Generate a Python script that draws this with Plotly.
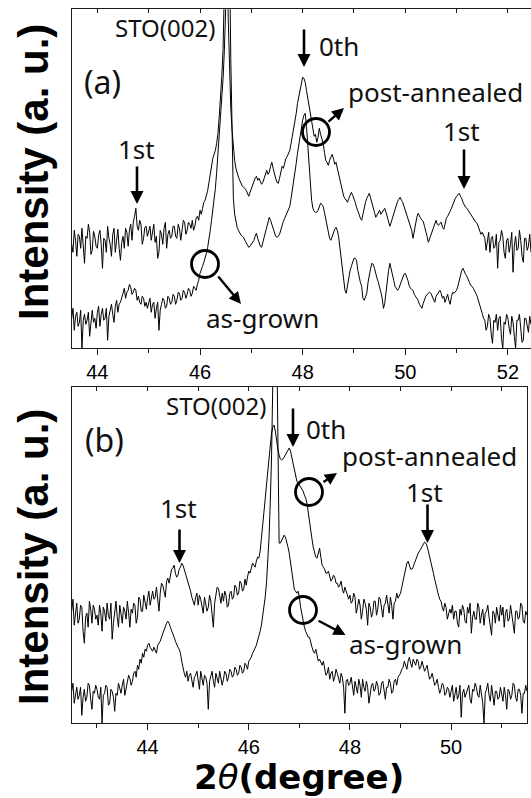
import numpy as np
import plotly.graph_objects as go

W, H = 531, 798

# ---------------- data (arbitrary intensity units) ----------------
STEP = 0.025
A_START = 43.50   # panel (a) first 2theta
B_START = 42.50   # panel (b) first 2theta

# panel (a): post-annealed (upper curve)
pa_a = [
    104, 96, 118, 108, 92, 114, 112, 100, 120, 106, 85, 112, 110, 124, 116, 94, 98, 117, 112, 102,
    100, 113, 118, 104, 80, 110, 108, 96, 122, 110, 104, 92, 114, 120, 96, 108, 119, 100, 88, 106,
    112, 100, 120, 116, 102, 118, 124, 108, 126, 132, 140, 122, 118, 128, 124, 104, 110, 121, 122, 112,
    116, 122, 108, 118, 124, 106, 112, 90, 96, 118, 114, 104, 120, 126, 100, 114, 118, 110, 112, 122,
    122, 112, 110, 124, 120, 108, 116, 128, 126, 114, 118, 126, 124, 120, 128, 118, 122, 130, 132, 128,
    138, 134, 140, 146, 148, 152, 158, 166, 175, 182, 190, 194, 198, 205, 215, 232, 250, 272, 300, 350,
    420, 400, 330, 280, 240, 218, 200, 188, 180, 175, 171, 168, 165, 162, 161, 160, 158, 154, 152, 156,
    160, 163, 166, 170, 172, 168, 170, 166, 164, 166, 170, 175, 178, 174, 176, 182, 186, 180, 174, 170,
    166, 165, 170, 176, 182, 180, 186, 190, 192, 195, 198, 205, 212, 218, 225, 235, 245, 252, 258, 265,
    271, 270, 266, 258, 250, 242, 235, 226, 218, 212, 214, 206, 211, 220, 214, 210, 205, 196, 188, 186,
    183, 188, 192, 194, 190, 184, 186, 180, 176, 168, 162, 156, 152, 150, 148, 146, 150, 154, 156, 153,
    150, 146, 141, 138, 134, 130, 128, 134, 142, 146, 150, 153, 155, 150, 146, 140, 136, 131, 133, 136,
    138, 134, 136, 138, 140, 136, 132, 126, 122, 126, 130, 135, 140, 144, 147, 149, 151, 148, 146, 142,
    138, 134, 131, 126, 122, 118, 110, 118, 126, 131, 135, 132, 130, 128, 127, 122, 118, 112, 106, 110,
    112, 116, 122, 126, 128, 124, 123, 125, 126, 121, 119, 124, 130, 132, 134, 137, 140, 144, 147, 150,
    152, 154, 155, 152, 150, 146, 143, 141, 140, 138, 136, 133, 132, 129, 128, 126, 125, 121, 119, 114,
    116, 112, 110, 98, 106, 116, 96, 110, 112, 100, 102, 114, 80, 106, 108, 118, 112, 96, 90, 108,
    110, 96, 104, 116, 76, 102, 112, 98, 100, 118, 108, 92, 86, 110, 110, 98, 102, 114, 96,
]
# panel (a): as-grown (lower curve)
ag_a = [
    30, 40, 18, 32, 36, 22, 26, 38, 0, 28, 34, 24, 28, 36, 12, 30, 38, 26, 30, 20,
    36, 42, 22, 34, 40, 28, 30, 40, 8, 32, 38, 44, 34, 26, 42, 48, 36, 44, 46, 52,
    55, 60, 50, 56, 58, 64, 61, 54, 56, 60, 58, 48, 52, 46, 44, 52, 50, 42, 46, 40,
    44, 50, 36, 44, 46, 30, 40, 46, 18, 38, 44, 50, 48, 40, 42, 52, 50, 44, 46, 54,
    52, 44, 48, 56, 55, 48, 50, 58, 56, 50, 54, 60, 58, 52, 55, 62, 60, 58, 64, 68,
    75, 78, 82, 86, 90, 95, 101, 108, 118, 128, 138, 148, 160, 176, 195, 210, 225, 245, 270, 298,
    330, 380, 420, 400, 290, 200, 150, 134, 125, 121, 118, 115, 113, 112, 111, 108, 106, 103, 101, 102,
    104, 106, 108, 112, 115, 110, 106, 102, 101, 106, 112, 116, 120, 126, 131, 128, 124, 119, 115, 112,
    111, 112, 114, 119, 124, 127, 130, 133, 136, 139, 142, 150, 158, 166, 175, 185, 195, 204, 212, 220,
    228, 233, 235, 222, 205, 182, 161, 148, 140, 137, 136, 136, 138, 142, 145, 144, 142, 136, 130, 122,
    115, 110, 108, 112, 116, 119, 121, 118, 112, 102, 90, 78, 68, 58, 55, 64, 72, 78, 82, 86,
    90, 90, 88, 78, 70, 66, 62, 50, 48, 52, 55, 66, 75, 80, 85, 84, 80, 74, 70, 66,
    62, 56, 50, 40, 45, 58, 70, 78, 85, 80, 75, 68, 62, 60, 58, 60, 64, 68, 72, 74,
    75, 72, 68, 63, 60, 59, 58, 54, 52, 50, 48, 44, 42, 40, 45, 49, 52, 54, 55, 56,
    55, 52, 50, 46, 52, 54, 56, 58, 55, 50, 52, 46, 50, 54, 48, 44, 52, 56, 55, 57,
    58, 62, 68, 74, 78, 80, 76, 74, 72, 68, 66, 63, 62, 60, 58, 55, 52, 48, 45, 40,
    35, 30, 28, 18, 22, 34, 30, 14, 5, 28, 26, 34, 18, 30, 32, 10, 0, 26, 24, 34,
    30, 20, 14, 32, 26, 12, 0, 28, 28, 34, 20, 6, 8, 30, 30, 22, 16, 32, 24,
]
# panel (b): post-annealed (upper curve)
pa_b = [
    112, 124, 98, 110, 120, 100, 104, 118, 116, 92, 80, 106, 110, 96, 122, 114, 100, 118, 114, 104,
    108, 98, 118, 110, 92, 116, 112, 102, 120, 108, 104, 120, 84, 100, 114, 122, 106, 96, 118, 110,
    100, 116, 112, 104, 122, 110, 96, 114, 110, 120, 118, 100, 106, 126, 124, 112, 112, 128, 120, 114,
    125, 132, 118, 128, 132, 124, 126, 136, 122, 112, 130, 140, 138, 130, 126, 142, 145, 140, 150, 154,
    155, 158, 150, 146, 148, 154, 156, 160, 158, 154, 150, 146, 142, 136, 132, 126, 122, 118, 126, 130,
    118, 128, 124, 114, 110, 126, 120, 112, 116, 128, 122, 108, 96, 120, 128, 136, 135, 126, 120, 130,
    122, 132, 128, 116, 118, 130, 132, 124, 126, 138, 136, 128, 130, 142, 140, 132, 134, 144, 138, 146,
    152, 150, 156, 160, 158, 156, 162, 166, 165, 172, 185, 196, 210, 224, 238, 252, 265, 278, 290, 296,
    298, 292, 282, 274, 268, 264, 263, 264, 266, 268, 270, 273, 275, 272, 266, 259, 252, 246, 242, 240,
    238, 237, 235, 232, 228, 225, 220, 210, 200, 192, 184, 176, 170, 166, 165, 170, 175, 166, 158, 156,
    154, 150, 150, 152, 148, 142, 144, 148, 146, 140, 140, 136, 138, 142, 134, 130, 136, 132, 130, 124,
    128, 120, 122, 130, 126, 110, 116, 124, 118, 104, 112, 124, 120, 114, 98, 120, 116, 106, 110, 122,
    122, 108, 114, 126, 124, 112, 106, 118, 120, 128, 118, 110, 126, 118, 104, 120, 122, 130, 125, 128,
    130, 136, 142, 150, 156, 160, 162, 158, 154, 154, 156, 160, 164, 168, 170, 172, 174, 176, 178, 181,
    180, 177, 172, 167, 162, 156, 150, 144, 138, 133, 128, 124, 122, 116, 112, 120, 116, 104, 108, 114,
    110, 118, 104, 112, 112, 100, 96, 114, 108, 118, 114, 102, 100, 116, 110, 120, 90, 106, 112, 104,
    104, 120, 116, 100, 108, 114, 98, 110, 112, 118, 106, 96, 88, 112, 110, 100, 116, 108, 102, 118,
    108, 116, 96, 110, 114, 102, 104, 118, 110, 98, 90, 112, 112, 104, 106, 120, 118, 102, 100, 112,
    108,
]
# panel (b): as-grown (lower curve)
ag_b = [
    32, 40, 20, 30, 36, 24, 28, 36, 8, 26, 34, 22, 26, 40, 38, 24, 14, 32, 30, 38,
    34, 26, 24, 36, 0, 28, 30, 38, 36, 18, 20, 34, 32, 26, 12, 30, 28, 40, 36, 30,
    38, 44, 28, 36, 40, 48, 45, 38, 42, 50, 52, 46, 58, 54, 64, 60, 70, 66, 74, 72,
    78, 80, 76, 74, 72, 76, 72, 70, 78, 80, 82, 86, 90, 94, 98, 100, 102, 100, 96, 93,
    90, 86, 82, 78, 76, 74, 70, 62, 55, 50, 46, 52, 42, 48, 50, 40, 36, 46, 48, 52,
    44, 34, 52, 44, 38, 48, 46, 40, 14, 42, 48, 52, 42, 36, 50, 44, 40, 52, 46, 38,
    44, 52, 50, 42, 46, 54, 52, 46, 48, 56, 54, 48, 50, 58, 56, 50, 52, 60, 58, 54,
    62, 64, 66, 70, 72, 75, 78, 82, 86, 92, 98, 106, 115, 126, 140, 160, 185, 220, 265, 340,
    420, 430, 400, 260, 180, 180, 183, 186, 188, 186, 182, 176, 170, 160, 150, 140, 134, 132, 130, 132,
    126, 116, 108, 100, 96, 92, 88, 86, 86, 80, 76, 72, 70, 74, 66, 62, 64, 60, 58, 62,
    54, 48, 50, 56, 44, 50, 52, 42, 46, 54, 50, 44, 40, 50, 46, 36, 10, 42, 44, 38,
    40, 46, 34, 28, 42, 36, 30, 44, 38, 26, 44, 36, 32, 42, 36, 20, 28, 38, 40, 32,
    34, 42, 38, 28, 30, 40, 42, 34, 24, 36, 36, 44, 40, 30, 32, 42, 44, 38, 46, 48,
    50, 54, 56, 62, 58, 54, 62, 66, 60, 56, 64, 60, 58, 64, 62, 54, 56, 62, 58, 52,
    55, 58, 50, 44, 46, 50, 44, 38, 40, 44, 36, 30, 34, 40, 38, 28, 30, 36, 34, 26,
    32, 38, 22, 30, 36, 24, 28, 38, 6, 30, 34, 26, 30, 36, 38, 24, 20, 34, 32, 40,
    36, 28, 26, 38, 30, 20, 0, 30, 34, 40, 28, 22, 38, 30, 18, 32, 32, 24, 26, 36,
    30, 22, 36, 28, 14, 34, 32, 24, 28, 40, 38, 26, 22, 34, 34, 28, 10, 30, 30, 38,
    32,
]

TICKS_A = [44, 46, 48, 50, 52]
TICKS_B = [44, 46, 48, 50]


def grid(start, values):
    return np.round(start + STEP * np.arange(len(values)), 3)


# ---------------- figure ----------------
def fx(p):  # pixel -> paper x
    return p / W


def fy(p):  # pixel -> paper y
    return 1 - p / H


LINE = '#1a1a1a'
fig = go.Figure()
for ys in (pa_a, ag_a):
    fig.add_trace(go.Scatter(x=grid(A_START, ys), y=ys, mode='lines', xaxis='x', yaxis='y',
                             line=dict(color='black', width=1), showlegend=False,
                             hoverinfo='skip'))
for ys in (pa_b, ag_b):
    fig.add_trace(go.Scatter(x=grid(B_START, ys), y=ys, mode='lines', xaxis='x2', yaxis='y2',
                             line=dict(color='black', width=1), showlegend=False,
                             hoverinfo='skip'))
# carriers for the top (inside-tick) axes
fig.add_trace(go.Scatter(x=[], y=[], xaxis='x3', yaxis='y', showlegend=False))
fig.add_trace(go.Scatter(x=[], y=[], xaxis='x4', yaxis='y2', showlegend=False))

dom_a = [fx(71.7), 1.0]
dom_b = [fx(71.7), fx(527)]
ydom_a = [fy(348.3), fy(9.3)]
ydom_b = [fy(723.3), fy(387)]
rng_a = [43.5, 52.45]
rng_b = [42.5, 51.5]

tickfont = dict(family='Liberation Sans, Arial', size=20, color='black')


def bottom_axis(dom, rng, ticks, anchor):
    return dict(domain=dom, range=rng, anchor=anchor, tickmode='array', tickvals=ticks,
                ticktext=[str(t) for t in ticks], ticks='outside', ticklen=6, tickwidth=1.3,
                tickcolor=LINE, tickfont=tickfont, showline=True, linecolor=LINE,
                linewidth=1.3, showgrid=False, zeroline=False,
                minor=dict(ticks='outside', ticklen=4, tickwidth=1.2, tickcolor=LINE,
                           tick0=43, dtick=1, showgrid=False))


def top_axis(dom, rng, over, anchor):
    return dict(domain=dom, range=rng, overlaying=over, side='top', anchor=anchor,
                tickmode='linear', tick0=43, dtick=1, ticks='inside', ticklen=4,
                tickwidth=1.2, tickcolor=LINE, showticklabels=False, showline=True,
                linecolor=LINE, linewidth=1.3, showgrid=False, zeroline=False)


def left_axis(dom, rng, anchor, mirror):
    return dict(domain=dom, range=rng, anchor=anchor, showticklabels=False, ticks='',
                showline=True, linecolor=LINE, linewidth=1.3, mirror=mirror,
                showgrid=False, zeroline=False)


fig.update_layout(
    width=W, height=H, margin=dict(l=0, r=0, t=0, b=0),
    paper_bgcolor='white', plot_bgcolor='white',
    xaxis=bottom_axis(dom_a, rng_a, TICKS_A, 'y'),
    xaxis2=bottom_axis(dom_b, rng_b, TICKS_B, 'y2'),
    xaxis3=top_axis(dom_a, rng_a, 'x', 'y'),
    xaxis4=top_axis(dom_b, rng_b, 'x2', 'y2'),
    yaxis=left_axis(ydom_a, [0, 339], 'x', False),
    yaxis2=left_axis(ydom_b, [0, 336], 'x2', True),
)

ann = []
LBL = dict(family='Noto Sans, DejaVu Sans', size=26, color='#111')


def text(px_, py_, s, size=26):
    f = dict(LBL)
    f['size'] = size
    ann.append(dict(x=fx(px_), y=fy(py_), xref='paper', yref='paper', text=s,
                    showarrow=False, xanchor='center', yanchor='middle', font=f))


def arrow(tx, ty, hx, hy, width=2.6, size=1.0):
    ann.append(dict(x=fx(hx), y=fy(hy), xref='paper', yref='paper', text='',
                    showarrow=True, ax=tx - hx, ay=ty - hy, axref='pixel', ayref='pixel',
                    arrowhead=2, arrowsize=size, arrowwidth=width, arrowcolor='black'))


shapes = []


def circle(cx, cy, r=13.5):
    shapes.append(dict(type='circle', xref='paper', yref='paper',
                       x0=fx(cx - r), x1=fx(cx + r), y0=fy(cy + r), y1=fy(cy - r),
                       line=dict(color='black', width=2.8)))


# panel (a) labels
text(164.5, 27, 'STO(002)', 24)
text(339, 46, '0th')
text(102, 82, '(a)', 32)
text(435, 92, 'post-annealed')
text(136.5, 149, '1st')
text(461, 131, '1st')
text(262.5, 318, 'as-grown')
arrow(304, 28, 304, 67)
arrow(137, 165, 137, 204)
arrow(464, 148, 464, 189)
arrow(327, 123, 344, 108, 2.4)
arrow(217, 275, 241, 304, 2.4)
circle(316, 132)
circle(205, 264)

# panel (b) labels
text(216, 405, 'STO(002)', 24)
text(326, 429, '0th')
text(104, 439, '(b)', 32)
text(429, 456, 'post-annealed')
text(178, 508, '1st')
text(424.5, 492, '1st')
text(405, 644, 'as-grown')
arrow(293, 407, 293, 447)
arrow(179.5, 528, 179.5, 563)
arrow(427.5, 503, 427.5, 543)
arrow(322, 483, 337, 473, 2.4)
arrow(317, 620, 345.5, 635, 2.4)
circle(309, 492)
circle(303, 610)

# axis titles
YT = dict(family='Liberation Sans, Arial', size=42, color='black')
for cy in (172, 557):
    ann.append(dict(x=fx(33), y=fy(cy), xref='paper', yref='paper',
                    text='<b>Intensity (a. u.)</b>', textangle=-90, showarrow=False,
                    xanchor='center', yanchor='middle', font=YT))
ann.append(dict(x=fx(299), y=fy(777), xref='paper', yref='paper',
                text='<b>2</b><i>θ</i><b>(degree)</b>', showarrow=False,
                xanchor='center', yanchor='middle',
                font=dict(family='DejaVu Sans', size=34, color='black')))

fig.update_layout(annotations=ann, shapes=shapes)
fig.write_html('out.html', config={'displayModeBar': False})

# remove the default page margin so the figure sits at the window's top-left corner
with open('out.html', encoding='utf-8') as fh:
    page = fh.read()
page = page.replace('<head>', '<head><style>html,body{margin:0;padding:0;overflow:hidden;}</style>', 1)
with open('out.html', 'w', encoding='utf-8') as fh:
    fh.write(page)
